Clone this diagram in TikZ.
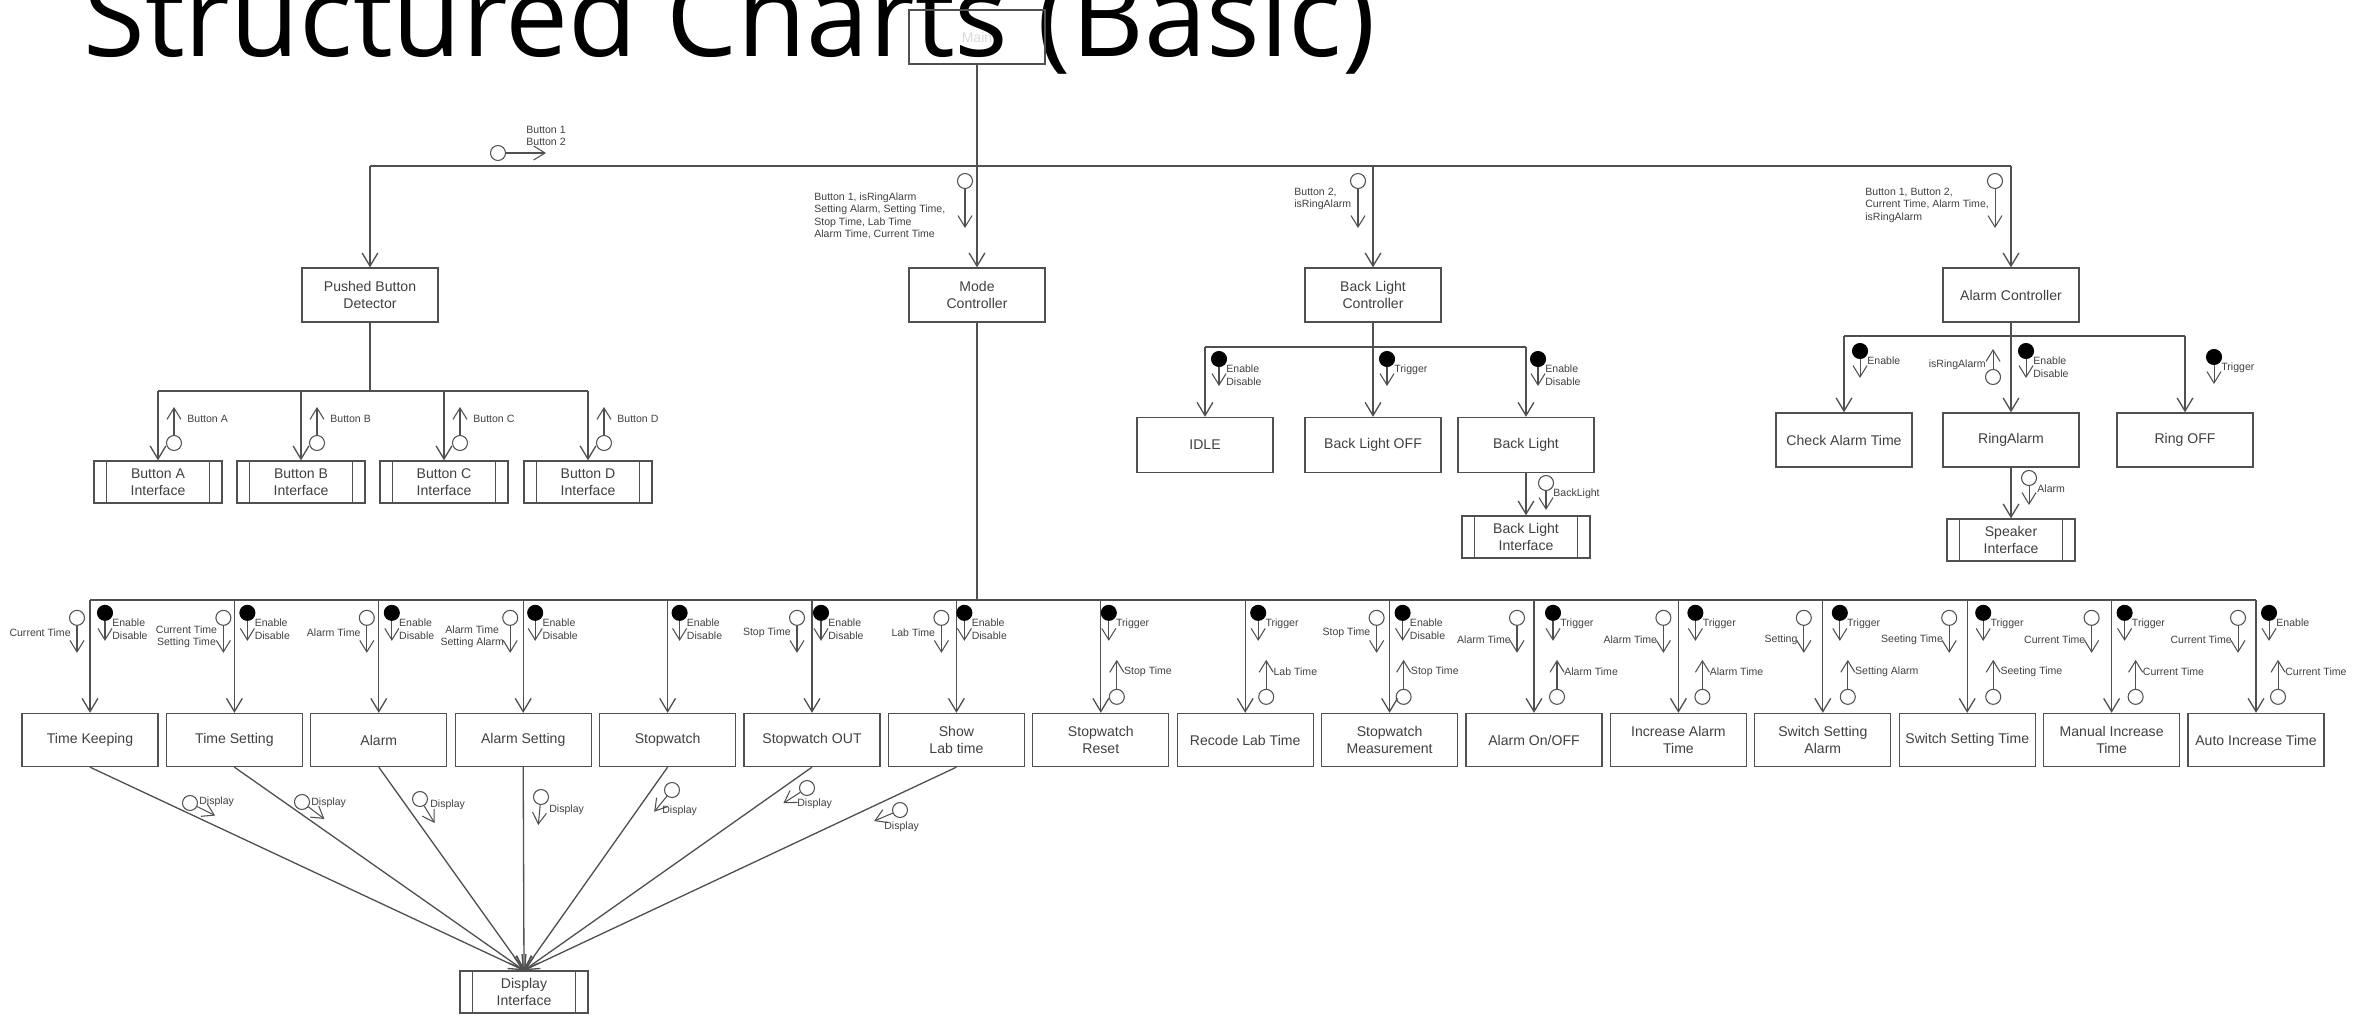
\documentclass[tikz,border=0pt]{standalone}
\usepackage{fontspec}
\setmainfont{Liberation Sans}
\newfontfamily\titlefont{Open Sans}
\usetikzlibrary{arrows.meta,calc}

\definecolor{linegray}{HTML}{505050}
\definecolor{textgray}{HTML}{404040}

\tikzset{
	module/.style={draw=linegray, line width=0.75pt, minimum width=27.2mm, minimum height=10.8mm, align=center, inner sep=1pt, text=textgray, font=\fontsize{8}{9.4}\selectfont},
	iface/.style={module, minimum width=25.6mm, minimum height=8.4mm},
	link/.style={draw=linegray, line width=0.75pt},
	call/.style={link, -{Straight Barb[length=7.5pt,width=9pt]}},
	datac/.style={circle, draw=linegray, line width=0.6pt, minimum size=3mm, inner sep=0pt},
	ctrlc/.style={datac, fill=black, draw=black},
	flag/.style={draw=linegray, line width=0.6pt, -{Straight Barb[length=6.5pt,width=8pt]}},
	tag/.style={inner sep=0pt, text=textgray, font=\fontsize{6}{7.1}\selectfont},
}

\begin{document}
\begin{tikzpicture}[x=0.2mm,y=-0.2mm]
	\useasboundingbox (0,0) rectangle (2366,1016);
	% title
	\node[anchor=base west, inner sep=0pt, font=\titlefont\fontsize{64}{64}\selectfont] (title) at (83,57) {Structured Charts (Basic)};

	% top level
	\node[module, text=gray!30] (main) at (977,37) {Main};
	\node[module] (pbd) at (370,295) {Pushed Button\\Detector};
	\node[module] (mc) at (977,295) {Mode\\Controller};
	\node[module] (blc) at (1373,295) {Back Light\\Controller};
	\node[module] (alc) at (2011,295) {Alarm Controller};
	\coordinate (topbus) at (0,166);
	\draw[call] (main) -- (mc);
	\draw[link] (pbd.north |- topbus) -- (alc.north |- topbus);
	\draw[call] (pbd.north |- topbus) -- (pbd.north);
	\draw[call] (blc.north |- topbus) -- (blc.north);
	\draw[call] (alc.north |- topbus) -- (alc.north);

	% couples of the top level
	\node[datac] (btn) at (498,153) {};
	\coordinate (btn-e) at (546,153);
	\draw[flag] (btn) -- (btn-e);
	\node[tag, anchor=west, align=left] (btnlbl) at (526,136) {Button 1\\Button 2};
	\foreach \nm/\x/\lx/\ly/\txt in {mcin/965/814/216/{Button 1, isRingAlarm\\Setting Alarm, Setting Time,\\Stop Time, Lab Time\\Alarm Time, Current Time},
		blcin/1358/1294/199/{Button 2,\\isRingAlarm},
		alcin/1995/1865/205/{Button 1, Button 2,\\Current Time, Alarm Time,\\isRingAlarm}} {
		\node[datac] (\nm) at (\x,181) {};
		\coordinate (\nm-e) at (\x,228);
		\draw[flag] (\nm) -- (\nm-e);
		\node[tag, anchor=west, align=left] (\nm lbl) at (\lx,\ly) {\txt};
	}

	% pushed button detector
	\coordinate (pbbus) at (0,391);
	\foreach \k/\x in {A/158,B/301,C/444,D/588} {
		\node[iface] (if\k) at (\x,482) {Button \k\\Interface};
		\draw[call] (if\k.north |- pbbus) -- (if\k.north);
		\node[datac] (bt\k) at (\x+16,443) {};
		\coordinate (bt\k-e) at (\x+16,407);
		\draw[flag] (bt\k) -- (bt\k-e);
		\node[tag, anchor=west] (bt\k lbl) at (\x+29,419) {Button \k};
	}
	\draw[link] (pbd) -- (pbd.south |- pbbus);
	\draw[link] (ifA.north |- pbbus) -- (ifD.north |- pbbus);

	% back light controller
	\node[module, minimum height=11mm] (idle) at (1205,445) {IDLE};
	\node[module, minimum height=11mm] (bloff) at (1373,445) {Back Light OFF};
	\node[module, minimum height=11mm] (bl) at (1526,445) {Back Light};
	\node[iface] (bli) at (1526,537) {Back Light\\Interface};
	\coordinate (blbus) at (0,347);
	\draw[call] (blc) -- (bloff);
	\draw[link] (idle.north |- blbus) -- (bl.north |- blbus);
	\draw[call] (idle.north |- blbus) -- (idle.north);
	\draw[call] (bl.north |- blbus) -- (bl.north);
	\draw[call] (bl) -- (bli);
	\foreach \nm/\x/\txt in {idc/1219/{Enable\\Disable}, offc/1387/Trigger, blc-c/1538/{Enable\\Disable}} {
		\node[ctrlc] (\nm) at (\x,359) {};
		\coordinate (\nm-e) at (\x,386);
		\draw[flag] (\nm) -- (\nm-e);
		\node[tag, anchor=north west, align=left] (\nm lbl) at (\x+7,365) {\txt};
	}
	\node[datac] (blout) at (1546,483) {};
	\coordinate (blout-e) at (1546,510);
	\draw[flag] (blout) -- (blout-e);
	\node[tag, anchor=west] (bloutlbl) at (1553,494) {BackLight};

	% alarm controller
	\node[module] (cat) at (1844,440) {Check Alarm Time};
	\node[module] (ring) at (2011,440) {RingAlarm};
	\node[module] (roff) at (2185,440) {Ring OFF};
	\node[iface] (spk) at (2011,540) {Speaker\\Interface};
	\coordinate (acbus) at (0,336);
	\draw[call] (alc) -- (ring);
	\draw[link] (cat.north |- acbus) -- (roff.north |- acbus);
	\draw[call] (cat.north |- acbus) -- (cat.north);
	\draw[call] (roff.north |- acbus) -- (roff.north);
	\draw[call] (ring) -- (spk);
	\foreach \nm/\x/\y/\txt in {catc/1860/351/Enable, ringc/2026/351/{Enable\\Disable}, roffc/2214/357/Trigger} {
		\node[ctrlc] (\nm) at (\x,\y) {};
		\coordinate (\nm-e) at (\x,\y+27);
		\draw[flag] (\nm) -- (\nm-e);
		\node[tag, anchor=north west, align=left] (\nm lbl) at (\x+7,\y+6) {\txt};
	}
	\node[datac] (isring) at (1993,377) {};
	\coordinate (isring-e) at (1993,349);
	\draw[flag] (isring) -- (isring-e);
	\node[tag, anchor=east] (isringlbl) at (1986,365) {isRingAlarm};
	\node[datac] (alout) at (2029,478) {};
	\coordinate (alout-e) at (2029,505);
	\draw[flag] (alout) -- (alout-e);
	\node[tag, anchor=west] (aloutlbl) at (2037,489) {Alarm};

	% mode controller
	\coordinate (botbus) at (0,600);
	\foreach \t [count=\n] in {Time Keeping, Time Setting, Alarm, Alarm Setting, Stopwatch, Stopwatch OUT, {Show\\Lab time}, {Stopwatch\\Reset}, Recode Lab Time, {Stopwatch\\Measurement}, {Alarm On/OFF}, {Increase Alarm\\Time}, {Switch Setting\\Alarm}, Switch Setting Time, {Manual Increase\\Time}, Auto Increase Time} {
		\node[module, minimum height=10.6mm] (b\n) at ({90+144.4*(\n-1)},740) {\t};
		\draw[call] (b\n.north |- botbus) -- (b\n.north);
	}
	\draw[link] (mc) -- (mc.south |- botbus);
	\draw[link] (b1.north |- botbus) -- (b16.north |- botbus);

	% data in
	\foreach \n/\dx/\ly/\txt in {1/-13/633/Current Time, 2/-11/637/{Current Time\\Setting Time}, 3/-12/633/Alarm Time, 4/-13/637/{Alarm Time\\Setting Alarm}, 6/-15/633/Stop Time, 7/-15/633/Lab Time, 10/-13/633/Stop Time, 11/-17/640/Alarm Time, 12/-15/640/Alarm Time, 13/-19/640/Setting, 14/-18/640/Seeting Time, 15/-20/640/Current Time, 16/-18/640/Current Time} {
		\node[datac] (di\n) at ($(b\n.north)+(\dx,-95)$) {};
		\coordinate (di\n-e) at ($(b\n.north)+(\dx,-60)$);
		\draw[flag] (di\n) -- (di\n-e);
		\node[tag, anchor=east, align=center] (di\n lbl) at ($(b\n.north)+(\dx-6,\ly-713)$) {\txt};
	}
	% control flags
	\foreach \n/\dx/\txt in {1/15/{Enable\\Disable}, 2/13/{Enable\\Disable}, 3/13/{Enable\\Disable}, 4/12/{Enable\\Disable}, 5/12/{Enable\\Disable}, 6/9/{Enable\\Disable}, 7/8/{Enable\\Disable}, 8/8/Trigger, 9/13/Trigger, 10/13/{Enable\\Disable}, 11/19/Trigger, 12/17/Trigger, 13/17/Trigger, 14/16/Trigger, 15/13/Trigger, 16/13/Enable} {
		\node[ctrlc] (co\n) at ($(b\n.north)+(\dx,-100)$) {};
		\coordinate (co\n-e) at ($(b\n.north)+(\dx,-72)$);
		\draw[flag] (co\n) -- (co\n-e);
		\node[tag, anchor=north west, align=left] (co\n lbl) at ($(b\n.north)+(\dx+7,-94)$) {\txt};
	}
	% data out
	\foreach \n/\dx/\txt in {8/16/Stop Time, 9/21/Lab Time, 10/14/Stop Time, 11/23/Alarm Time, 12/24/Alarm Time, 13/25/Setting Alarm, 14/26/Seeting Time, 15/24/Current Time, 16/22/Current Time} {
		\node[datac] (do\n) at ($(b\n.north)+(\dx,-16)$) {};
		\coordinate (do\n-e) at ($(b\n.north)+(\dx,-53)$);
		\draw[flag] (do\n) -- (do\n-e);
		\node[tag, anchor=west] (do\n lbl) at ($(b\n.north)+(\dx+7,-41)$) {\txt};
	}

	% display
	\node[iface] (disp) at (524,992) {Display\\Interface};
	\foreach \n in {1,...,7} \draw[call] (b\n.south) -- (disp.north);
	\foreach \n/\x/\y/\lx/\ly in {1/190/803/199/802, 2/302/802/311/803, 3/420/799/430/805, 4/541/797/549/810, 5/672/790/662/811, 6/807/788/797/804, 7/900/810/884/827} {
		\node[datac] (dc\n) at (\x,\y) {};
		\coordinate (dc\n-e) at ($(dc\n)!16pt!(disp.north)$);
		\draw[flag] (dc\n) -- (dc\n-e);
		\node[tag, anchor=west] (dc\n lbl) at (\lx,\ly) {Display};
	}

	% interface bars
	\foreach \nm in {ifA,ifB,ifC,ifD,bli,spk,disp} {
		\draw[link, line width=0.6pt] ([xshift=2.6mm]\nm.north west) -- ([xshift=2.6mm]\nm.south west);
		\draw[link, line width=0.6pt] ([xshift=-2.6mm]\nm.north east) -- ([xshift=-2.6mm]\nm.south east);
	}
\end{tikzpicture}
\end{document}
